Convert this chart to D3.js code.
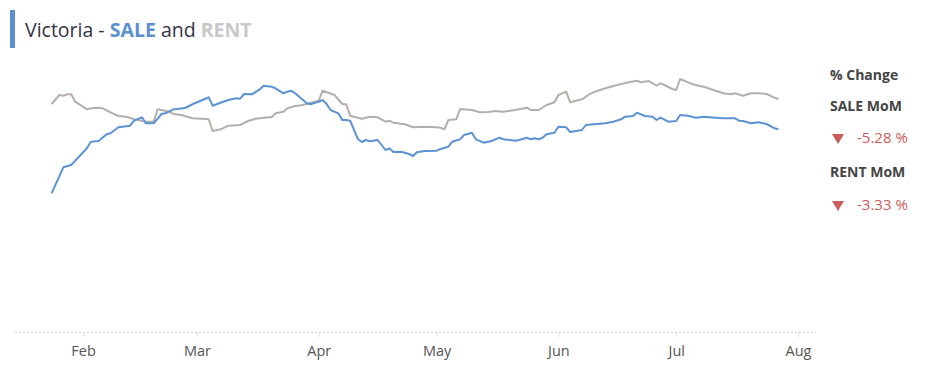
<!DOCTYPE html>
<html>
<head>
<meta charset="utf-8">
<script src="https://cdn.jsdelivr.net/npm/d3@7/dist/d3.min.js"></script>
<style>
  html, body { margin: 0; padding: 0; background: #fff; }
  svg { display: block; font-family: "Open Sans", "Noto Sans", sans-serif; }
</style>
</head>
<body>
<svg id="chart" width="952" height="381"></svg>
<script>
// ---- data (index values) ----
const saleDates = ["2020-01-24","2020-01-27","2020-01-29","2020-02-02","2020-02-03","2020-02-05","2020-02-07","2020-02-08","2020-02-10","2020-02-13","2020-02-14","2020-02-16","2020-02-17","2020-02-19","2020-02-21","2020-02-22","2020-02-24","2020-02-25","2020-02-27","2020-02-29","2020-03-03","2020-03-04","2020-03-05","2020-03-07","2020-03-09","2020-03-11","2020-03-12","2020-03-13","2020-03-15","2020-03-17","2020-03-18","2020-03-20","2020-03-21","2020-03-23","2020-03-24","2020-03-25","2020-03-26","2020-03-28","2020-03-29","2020-03-30","2020-03-31","2020-04-01","2020-04-02","2020-04-03","2020-04-04","2020-04-06","2020-04-07","2020-04-08","2020-04-09","2020-04-10","2020-04-11","2020-04-12","2020-04-13","2020-04-14","2020-04-16","2020-04-17","2020-04-18","2020-04-19","2020-04-20","2020-04-22","2020-04-24","2020-04-25","2020-04-26","2020-04-28","2020-05-01","2020-05-02","2020-05-04","2020-05-05","2020-05-07","2020-05-08","2020-05-10","2020-05-11","2020-05-13","2020-05-15","2020-05-17","2020-05-18","2020-05-21","2020-05-22","2020-05-24","2020-05-25","2020-05-26","2020-05-27","2020-05-28","2020-05-29","2020-05-31","2020-06-01","2020-06-03","2020-06-04","2020-06-07","2020-06-08","2020-06-10","2020-06-13","2020-06-15","2020-06-17","2020-06-18","2020-06-20","2020-06-21","2020-06-23","2020-06-25","2020-06-26","2020-06-27","2020-06-29","2020-07-01","2020-07-02","2020-07-04","2020-07-06","2020-07-08","2020-07-11","2020-07-13","2020-07-16","2020-07-17","2020-07-18","2020-07-20","2020-07-22","2020-07-24","2020-07-26","2020-07-27"];
const saleValues = [138.7,164.7,167,183.7,190.3,191,197.7,198.7,204.7,206.3,211.3,214.7,208.7,208.7,218,218.7,222.7,223,224,228,233,234.7,226.3,229.3,232,233.7,233.3,238,237.7,242.7,246.3,245.3,243.7,238.7,240.3,241.3,238.7,232,228.7,227.7,229.3,230.3,232,228,222,218.7,212,212,211.3,202,192.7,190,192,190.7,192,187,182,183.7,180,180.3,178,176,179.7,181,181.3,183,185.3,190.3,192.7,197,199.3,192.7,189.3,191,194.3,192.7,191.3,192,194.3,192.7,193.7,192.7,194.3,197.7,199.3,205.3,204.7,200,202,207,207.7,208.7,210.3,212.7,215.3,216,219.3,216,215.3,212,214.3,210.3,211,217,216.3,214.3,215.3,214.3,213.7,213.7,211.3,211,208.7,209.7,208,203.7,202.7];

const rentDates = ["2020-01-24","2020-01-26","2020-01-27","2020-01-28","2020-01-29","2020-01-30","2020-02-01","2020-02-02","2020-02-04","2020-02-06","2020-02-08","2020-02-10","2020-02-12","2020-02-14","2020-02-17","2020-02-19","2020-02-20","2020-02-23","2020-02-24","2020-02-26","2020-02-28","2020-02-29","2020-03-04","2020-03-05","2020-03-07","2020-03-09","2020-03-12","2020-03-14","2020-03-16","2020-03-19","2020-03-20","2020-03-21","2020-03-23","2020-03-24","2020-03-26","2020-03-28","2020-03-30","2020-04-01","2020-04-02","2020-04-05","2020-04-07","2020-04-08","2020-04-09","2020-04-12","2020-04-14","2020-04-16","2020-04-18","2020-04-19","2020-04-20","2020-04-23","2020-04-25","2020-04-28","2020-05-01","2020-05-02","2020-05-03","2020-05-04","2020-05-06","2020-05-07","2020-05-10","2020-05-12","2020-05-14","2020-05-16","2020-05-18","2020-05-21","2020-05-24","2020-05-25","2020-05-27","2020-05-29","2020-05-31","2020-06-01","2020-06-03","2020-06-04","2020-06-07","2020-06-09","2020-06-11","2020-06-13","2020-06-15","2020-06-17","2020-06-19","2020-06-21","2020-06-22","2020-06-24","2020-06-26","2020-06-27","2020-06-28","2020-06-30","2020-07-01","2020-07-02","2020-07-04","2020-07-05","2020-07-07","2020-07-08","2020-07-11","2020-07-13","2020-07-15","2020-07-16","2020-07-18","2020-07-20","2020-07-22","2020-07-24","2020-07-26","2020-07-27"];
const rentValues = [228,237,236.3,237.7,237.7,230.3,225.3,222.7,224.3,223.7,219.7,216,215.3,212.7,210.3,210.3,222.7,220.3,218,217,214.7,213.7,212.7,201,202.7,206.3,207,211,213.3,214.7,214.7,218.7,220.3,223.7,226,227,229.3,231.3,241.3,237,228,227.7,216.3,213.3,215.3,214.7,210.3,211.3,209.3,207.7,204.7,205.3,204.7,204.3,202.7,212,212.7,223,222,219.7,220,221,220.3,222,224.3,222,222,227,229.7,237,240.3,229.7,232.7,238,241.3,243.7,246,248,249.7,251.3,249.7,251,246.3,248.7,247,243,242,253,249.7,248,246,245.3,241.3,238.7,237.7,238.7,236.3,238.7,238.7,238,234.3,233];

const tickLabels = ["Feb","Mar","Apr","May","Jun","Jul","Aug"];
const tickDates = ["2020-02-01","2020-03-01","2020-04-01","2020-05-01","2020-06-01","2020-07-01","2020-08-01"];

const titleParts = [
  {text: "Victoria - ", weight: 400, color: "#333344"},
  {text: "SALE", weight: 700, color: "#5b8fd0"},
  {text: " and ", weight: 400, color: "#333344"},
  {text: "RENT", weight: 700, color: "#c8c8c8"}
];
const changeHeader = "% Change";
const changeLabels = ["SALE MoM", "RENT MoM"];
const changeValues = ["-5.28 %", "-3.33 %"];

// ---- drawing ----
const parse = d3.timeParse("%Y-%m-%d");
const svg = d3.select("#chart");

const x = d3.scaleTime()
  .domain([parse("2020-02-01"), parse("2020-08-01")])
  .range([83, 798]);
const y = d3.scaleLinear().domain([0, 260]).range([332, 72]);

// title
svg.append("rect").attr("x", 10).attr("y", 10).attr("width", 5).attr("height", 38).attr("fill", "#5b8fd0");
const title = svg.append("text").attr("x", 25).attr("y", 36.5).attr("font-size", 19.5);
titleParts.forEach(p => title.append("tspan").attr("font-weight", p.weight).attr("fill", p.color).text(p.text));

// baseline (dashed)
svg.append("line").attr("x1", 15).attr("x2", 816).attr("y1", 332.5).attr("y2", 332.5)
  .attr("stroke", "#c8c8c8").attr("stroke-dasharray", "2,2").attr("stroke-width", 1);

// x axis
const tickVals = tickDates.map(parse);
const axis = d3.axisBottom(x).tickValues(tickVals)
  .tickFormat((d, i) => tickLabels[i]).tickSize(5).tickPadding(9);
const gx = svg.append("g").attr("transform", "translate(0,332)").call(axis);
gx.select(".domain").remove();
gx.selectAll(".tick line").attr("stroke", "#e0e0e0");
gx.selectAll(".tick text").attr("fill", "#555").attr("font-size", 14.5)
  .attr("font-family", "'Open Sans', 'Noto Sans', sans-serif");

// lines
const line = d3.line().x(d => x(d[0])).y(d => y(d[1])).curve(d3.curveLinear);
const rentData = rentDates.map((d, i) => [parse(d), rentValues[i]]);
const saleData = saleDates.map((d, i) => [parse(d), saleValues[i]]);
svg.append("path").datum(rentData).attr("d", line).attr("fill", "none")
  .attr("stroke", "#b5afac").attr("stroke-width", 2).attr("stroke-linejoin", "round");
svg.append("path").datum(saleData).attr("d", line).attr("fill", "none")
  .attr("stroke", "#5b93d3").attr("stroke-width", 2).attr("stroke-linejoin", "round");

// right-side panel
const panel = svg.append("g");
panel.append("text").attr("x", 830).attr("y", 80).attr("font-size", 14).attr("font-weight", 700)
  .attr("fill", "#444").text(changeHeader);
const rowY = [[111, 143], [177, 210]];
changeLabels.forEach((lab, i) => {
  panel.append("text").attr("x", 830).attr("y", rowY[i][0]).attr("font-size", 14).attr("font-weight", 700)
    .attr("fill", "#444").text(lab);
  const ty = rowY[i][1];
  panel.append("path").attr("d", `M832,${ty - 9}L844,${ty - 9}L838,${ty + 1}Z`).attr("fill", "#cd5c5c");
  panel.append("text").attr("x", 857).attr("y", ty).attr("font-size", 15).attr("fill", "#cd5c5c").text(changeValues[i]);
});
</script>
</body>
</html>
